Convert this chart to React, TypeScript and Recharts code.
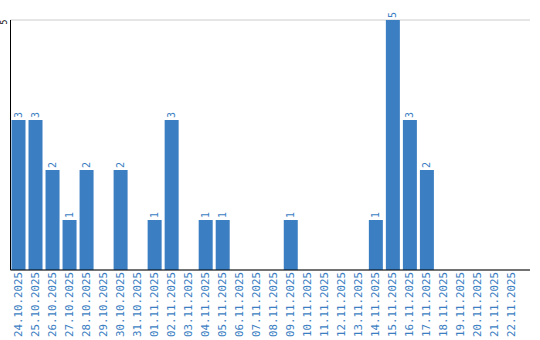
import React from "react";
import { BarChart, Bar, XAxis, YAxis, CartesianGrid, LabelList } from "recharts";

const dates = [
  "24.10.2025", "25.10.2025", "26.10.2025", "27.10.2025", "28.10.2025", "29.10.2025",
  "30.10.2025", "31.10.2025", "01.11.2025", "02.11.2025", "03.11.2025", "04.11.2025",
  "05.11.2025", "06.11.2025", "07.11.2025", "08.11.2025", "09.11.2025", "10.11.2025",
  "11.11.2025", "12.11.2025", "13.11.2025", "14.11.2025", "15.11.2025", "16.11.2025",
  "17.11.2025", "18.11.2025", "19.11.2025", "20.11.2025", "21.11.2025", "22.11.2025",
];
const counts = [3, 3, 2, 1, 2, 0, 2, 0, 1, 3, 0, 1, 1, 0, 0, 0, 1, 0, 0, 0, 0, 1, 5, 3, 2, 0, 0, 0, 0, 0];
const yTicks = [0, 5];

const data = dates.map((d, i) => ({ date: d, count: counts[i] }));

const BLUE = "#3b7ec2";
const MONO = "'DejaVu Sans Mono', 'Liberation Mono', monospace";

const XTick = (props: any) => {
  const { x, payload } = props;
  return (
    <text
      x={0}
      y={0}
      transform={`translate(${x},272) rotate(-90)`}
      textAnchor="end"
      dominantBaseline="central"
      fontFamily={MONO}
      fontSize={10.8}
      fill={BLUE}
    >
      {payload.value}
    </text>
  );
};

const YTick = (props: any) => {
  const { y, payload } = props;
  if (payload.value === 0) return null;
  return (
    <text
      x={0}
      y={0}
      transform={`translate(4.5,${y + 2}) rotate(-90)`}
      textAnchor="middle"
      dominantBaseline="central"
      fontFamily={MONO}
      fontSize={8}
      fill="#000"
    >
      {payload.value}
    </text>
  );
};

const ValueLabel = (props: any) => {
  const { x, y, width, value } = props;
  if (!value) return null;
  const cx = x + width / 2;
  return (
    <text
      x={0}
      y={0}
      transform={`translate(${cx},${y - 2}) rotate(-90)`}
      textAnchor="start"
      dominantBaseline="central"
      fontFamily={MONO}
      fontSize={10}
      fill={BLUE}
    >
      {value}
    </text>
  );
};

export default function App() {
  return (
    <div style={{ position: "absolute", left: 0, top: 0, background: "#fff" }}>
      <BarChart
        width={540}
        height={340}
        data={data}
        margin={{ top: 20, right: 10, bottom: 0, left: 0.5 }}
        barSize={14}
      >
        <CartesianGrid vertical={false} stroke="#cccccc" />
        <XAxis
          dataKey="date"
          interval={0}
          height={70}
          tick={<XTick />}
          tickLine={false}
          axisLine={{ stroke: "#000" }}
          padding={{ left: -1, right: 10 }}
        />
        <YAxis
          width={10}
          domain={[0, 5]}
          ticks={yTicks}
          tick={<YTick />}
          tickLine={false}
          axisLine={{ stroke: "#000" }}
        />
        <Bar dataKey="count" fill={BLUE} isAnimationActive={false}>
          <LabelList dataKey="count" content={<ValueLabel />} />
        </Bar>
      </BarChart>
    </div>
  );
}
